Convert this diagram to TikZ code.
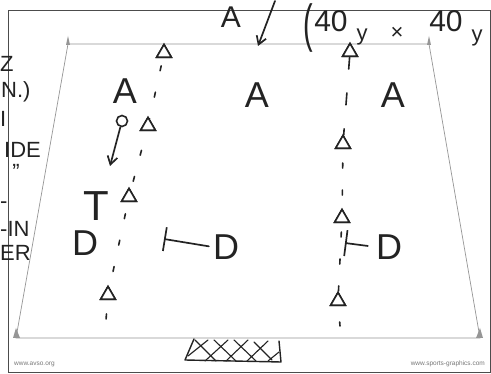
\documentclass[tikz,border=0pt]{standalone}
\usepackage{fontspec}
\setmainfont{Liberation Sans}
\usetikzlibrary{shapes.geometric,arrows.meta}
\definecolor{pen}{RGB}{35,35,35}
\definecolor{fieldgray}{RGB}{150,150,150}
\definecolor{urlgray}{RGB}{120,120,120}
\begin{document}
\begin{tikzpicture}[x=1pt,y=-1pt,
  fieldline/.style={draw=fieldgray,line width=0.7pt},
  frameline/.style={draw=black!70,line width=0.8pt},
  penline/.style={draw=pen,line width=1.7pt,line cap=round,line join=round},
  dashline/.style={draw=pen,line width=1.6pt,line cap=round,dash pattern=on 5pt off 22pt},
  cone/.style={regular polygon,regular polygon sides=3,draw=pen,line width=1.6pt,fill=white,minimum size=17pt,inner sep=0pt},
  hand/.style={text=pen,inner sep=0pt,font=\fontsize{36}{36}\selectfont},
  handbig/.style={text=pen,inner sep=0pt,font=\fontsize{42}{42}\selectfont},
  handmid/.style={text=pen,inner sep=0pt,font=\fontsize{30}{30}\selectfont},
  handsmall/.style={text=pen,inner sep=0pt,font=\fontsize{22}{22}\selectfont},
  url/.style={text=urlgray,inner sep=0pt,font=\fontsize{6.5}{7}\selectfont},
  flag/.style={fill=fieldgray},
  pentip/.style={-{Straight Barb[length=8pt,width=10pt,line width=1.7pt]}}
]
\useasboundingbox (0,0) rectangle (491,374);
\fill[white] (0,0) rectangle (491,374);

% frame and field
\draw[frameline] (8,10) rectangle (490,372);
\draw[fieldline] (68,44) -- (429,44) -- (480,338) -- (16,338) -- cycle;
% corner flags
\fill[flag] (66,45) -- (68,36) -- (70,45) -- cycle;
\fill[flag] (427,45) -- (429,36) -- (431,45) -- cycle;
\fill[flag] (13,338) -- (16,328) -- (20,338) -- cycle;
\fill[flag] (476,338) -- (480,328) -- (483,338) -- cycle;

% goal
\draw[penline,line width=1.4pt] (194,339) -- (185,360) -- (281,362) -- (279,341);
\draw[penline,line width=1.1pt]
  (195,340) -- (216,361) (214,340) -- (236,361) (234,340) -- (256,361) (254,342) -- (272,360)
  (188,356) -- (208,340) (205,361) -- (228,340) (226,361) -- (248,340) (247,361) -- (268,341) (268,361) -- (279,352);

% urls
\node[url,anchor=west] (u1) at (14,364) {www.avso.org};
\node[url,anchor=east] (u2) at (485,364) {www.sports-graphics.com};

% top texts
\node[handmid] (Atop) at (231,17) {A};
\coordinate (arrS) at (275,1);
\coordinate (arrE) at (258,46);
\draw[penline,pentip] (arrS) -- (arrE);
\node[text=pen,inner sep=0pt,font=\fontsize{36}{36}\selectfont] (par) at (308,28) {\scalebox{0.8}[1.45]{(}};
\node[handmid] (n40a) at (331,21) {40};
\node[handsmall] (ya) at (362,37) {y};
\node[handsmall] (times) at (397,33) {×};
\node[handmid] (n40b) at (446,21) {40};
\node[handsmall] (yb) at (477,38) {y};

% left margin fragments
\node[handsmall,anchor=west] (f1) at (0,64) {Z};
\node[handsmall,anchor=west] (f2) at (1,92) {N.)};
\node[handsmall,anchor=west] (f3) at (0,119) {I};
\node[handsmall,anchor=west] (f4) at (4,150) {IDE};
\node[handsmall] (f5) at (16,172) {''};
\node[handsmall,anchor=west] (f6) at (0,205) {-};
\node[handsmall,anchor=west] (f7) at (0,229) {-IN};
\node[handsmall,anchor=west] (f8) at (0,253) {ER};

% left column of cones
\node[cone] (c1) at (164,53) {};
\node[cone] (c2) at (148,126) {};
\node[cone] (c3) at (129,197) {};
\node[cone] (c4) at (108,295) {};
\coordinate (lend) at (106,320);
\draw[dashline,dash phase=-8pt] (c1) -- (c2);
\draw[dashline,dash phase=-20pt] (c2) -- (c3);
\draw[dashline,dash phase=-12pt] (c3) -- (c4);
\draw[dashline,dash phase=-14pt] (c4) -- (lend);
\node[cone] at (c1) {};
\node[cone] at (c2) {};
\node[cone] at (c3) {};
\node[cone] at (c4) {};

% right column of cones
\node[cone] (r0) at (350,52) {};
\node[cone] (r1) at (343,144) {};
\node[cone] (r2) at (342,218) {};
\node[cone] (r3) at (338,301) {};
\coordinate (rend) at (340,326);
\draw[dashline,dash pattern=on 12pt off 24pt] (r0) -- (r1);
\draw[dashline,dash phase=-14pt] (r1) -- (r2);
\draw[dashline,dash phase=-36pt] (r2) -- (r3);
\draw[dashline,dash phase=-16pt] (r3) -- (rend);
\node[cone] at (r0) {};
\node[cone] at (r1) {};
\node[cone] at (r2) {};
\node[cone] at (r3) {};

% players
\node[hand] (A1) at (125,91) {A};
\node[hand] (A2) at (257,95) {A};
\node[hand] (A3) at (393,95) {A};
\node[circle,draw=pen,line width=1.6pt,minimum size=11pt,inner sep=0pt] (ball) at (122,121) {};
\coordinate (ballE) at (110,166);
\draw[penline,pentip] (ball) -- (ballE);
\node[handbig] (T) at (96,206) {T};
\node[hand] (D1) at (85,243) {D};
\node[hand] (D2) at (226,247) {D};
\node[hand] (D3) at (389,247) {D};
\coordinate (b1) at (164,239);
\draw[penline,{Bar[width=24pt,line width=1.7pt]}-,shorten >=4pt] (b1) -- (D2.west);
\coordinate (b2) at (345,243);
\draw[penline,{Bar[width=26pt,line width=1.7pt]}-,shorten >=8pt] (b2) -- (D3.west);
\end{tikzpicture}
\end{document}
